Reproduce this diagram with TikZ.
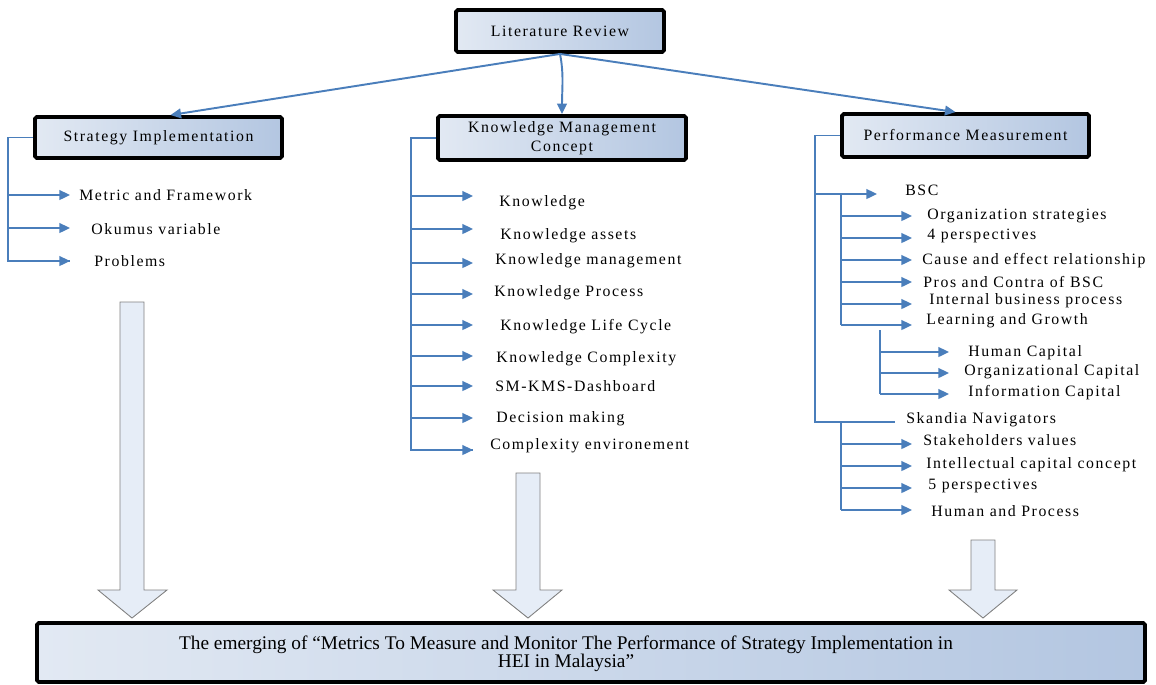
\documentclass[tikz,border=0pt]{standalone}
\usepackage{fontspec}
\newfontfamily\spacedfont{Liberation Serif}[LetterSpace=10]
\newfontfamily\plainfont{Liberation Serif}
\usetikzlibrary{arrows.meta, positioning, calc}
\definecolor{linkblue}{HTML}{4A7EBB}
\definecolor{boxleft}{HTML}{E2E9F3}
\definecolor{boxright}{HTML}{B3C6E1}
\definecolor{bigfill}{HTML}{E6EDF7}

\begin{document}
\begin{tikzpicture}[
		x=0.02cm, y=-0.02cm,
		font=\spacedfont\fontsize{9}{10.5}\selectfont,
		% Heading boxes
		headbox/.style={draw=black, line width=2.2pt, rounded corners=1pt, shading=axis, left color=boxleft, right color=boxright, shading angle=90, inner sep=0pt, align=center},
		% Links and list entries
		link/.style={draw=linkblue, line width=1.1pt},
		branch/.style={link, -{Triangle[length=6pt, width=5.5pt]}},
		entry/.style={anchor=west, inner sep=0pt},
		% Big down arrows
		bigarrow/.style={draw=black!50, fill=bigfill, line width=0.5pt}
		]
		\useasboundingbox (0,0) rectangle (1156,684);
		
		% --- HEADINGS ---
		\node[headbox, minimum width=208*0.02cm, minimum height=42*0.02cm] (LR) at (560,31) {Literature Review};
		\node[headbox, minimum width=247*0.02cm, minimum height=41*0.02cm] (SI) at (158.5,137.5) {Strategy Implementation};
		\node[headbox, minimum width=248*0.02cm, minimum height=44*0.02cm] (KM) at (562,138) {Knowledge Management\\Concept};
		\node[headbox, minimum width=247*0.02cm, minimum height=43*0.02cm] (PM) at (965.5,135.5) {Performance Measurement};
		
		% Top links
		\draw[branch] (LR.south) -- ($(SI.north)+(12,0)$);
		\draw[branch] (LR.south) .. controls +(4,20) and +(0,-25) .. (KM.north);
		\draw[branch] (LR.south) -- ($(PM.north)+(-10,0)$);
		
		% --- STRATEGY IMPLEMENTATION ---
		\coordinate (s1) at (70,195);
		\coordinate (s2) at (70,228);
		\coordinate (s3) at (70,261);
		\node[entry] (s1t) at (79,195) {Metric and Framework};
		\node[entry] (s2t) at (91,229) {Okumus variable};
		\node[entry] (s3t) at (94,261) {Problems};
		\draw[link] (SI.west) -- ++(-25,0) coordinate (sSpine) |- (s3);
		\draw[branch] (sSpine |- s1) -- (s1);
		\draw[branch] (sSpine |- s2) -- (s2);
		\draw[branch] (sSpine |- s3) -- (s3);
		
		% --- KNOWLEDGE MANAGEMENT CONCEPT ---
		\coordinate (k1) at (473,196);
		\coordinate (k2) at (473,229);
		\coordinate (k3) at (473,263);
		\coordinate (k4) at (473,294);
		\coordinate (k5) at (473,325);
		\coordinate (k6) at (473,356);
		\coordinate (k7) at (473,386);
		\coordinate (k8) at (473,418);
		\coordinate (k9) at (473,450);
		\node[entry] (k1t) at (499,203) {Knowledge};
		\node[entry] (k2t) at (500,236) {Knowledge assets};
		\node[entry] (k3t) at (495,261) {Knowledge management};
		\node[entry] (k4t) at (494,293) {Knowledge Process};
		\node[entry] (k5t) at (500,327) {Knowledge Life Cycle};
		\node[entry] (k6t) at (496,359) {Knowledge Complexity};
		\node[entry] (k7t) at (495,386) {SM-KMS-Dashboard};
		\node[entry] (k8t) at (496,419) {Decision making};
		\node[entry] (k9t) at (490,446) {Complexity environement};
		\draw[link] (KM.west) -- ++(-25,0) coordinate (kSpine) |- (k9);
		\draw[branch] (kSpine |- k1) -- (k1);
		\draw[branch] (kSpine |- k2) -- (k2);
		\draw[branch] (kSpine |- k3) -- (k3);
		\draw[branch] (kSpine |- k4) -- (k4);
		\draw[branch] (kSpine |- k5) -- (k5);
		\draw[branch] (kSpine |- k6) -- (k6);
		\draw[branch] (kSpine |- k7) -- (k7);
		\draw[branch] (kSpine |- k8) -- (k8);
		\draw[branch] (kSpine |- k9) -- (k9);
		
		% --- PERFORMANCE MEASUREMENT ---
		\coordinate (bsc) at (877,194);
		\coordinate (ska) at (895,422);
		\node[entry] (bsct) at (905,190) {BSC};
		\node[entry] (skat) at (906,420) {Skandia Navigators};
		\draw[link] (PM.west) -- ++(-25,0) coordinate (pSpine) |- (ska);
		\draw[branch] (pSpine |- bsc) -- (bsc);
		
		% BSC entries
		\coordinate (b1) at (912,216);
		\coordinate (b2) at (912,238);
		\coordinate (b3) at (912,260);
		\coordinate (b4) at (912,282);
		\coordinate (b5) at (912,304);
		\coordinate (b6) at (912,325);
		\node[entry] (b1t) at (927,216) {Organization strategies};
		\node[entry] (b2t) at (927,236) {4 perspectives};
		\node[entry] (b3t) at (922,261) {Cause and effect relationship};
		\node[entry] (b4t) at (923,282) {Pros and Contra of BSC};
		\node[entry] (b5t) at (929,301) {Internal business process};
		\node[entry] (b6t) at (926,321) {Learning and Growth};
		\draw[link] ($(pSpine |- bsc)+(26,0)$) coordinate (bSpine) -- (bSpine |- b6);
		\draw[branch] (bSpine |- b1) -- (b1);
		\draw[branch] (bSpine |- b2) -- (b2);
		\draw[branch] (bSpine |- b3) -- (b3);
		\draw[branch] (bSpine |- b4) -- (b4);
		\draw[branch] (bSpine |- b5) -- (b5);
		\draw[branch] (bSpine |- b6) -- (b6);
		
		% Learning and Growth entries
		\coordinate (g1) at (949,352);
		\coordinate (g2) at (949,373);
		\coordinate (g3) at (949,394);
		\node[entry] (g1t) at (968,353) {Human Capital};
		\node[entry] (g2t) at (964,372) {Organizational Capital};
		\node[entry] (g3t) at (968,393) {Information Capital};
		\draw[link] (880,330) coordinate (gSpine) -- (gSpine |- g3);
		\draw[branch] (gSpine |- g1) -- (g1);
		\draw[branch] (gSpine |- g2) -- (g2);
		\draw[branch] (gSpine |- g3) -- (g3);
		
		% Skandia entries
		\coordinate (n1) at (912,444);
		\coordinate (n2) at (912,466);
		\coordinate (n3) at (912,488);
		\coordinate (n4) at (912,510);
		\node[entry] (n1t) at (923,440) {Stakeholders values};
		\node[entry] (n2t) at (926,465) {Intellectual capital concept};
		\node[entry] (n3t) at (928,486) {5 perspectives};
		\node[entry] (n4t) at (931,511) {Human and Process};
		\draw[link] (bSpine |- ska) coordinate (nSpine) -- (nSpine |- n4);
		\draw[branch] (nSpine |- n1) -- (n1);
		\draw[branch] (nSpine |- n2) -- (n2);
		\draw[branch] (nSpine |- n3) -- (n3);
		\draw[branch] (nSpine |- n4) -- (n4);
		
		% --- RESULT ---
		\node[headbox, minimum width=1108*0.02cm, minimum height=59*0.02cm] (RES) at (591,652.5) {};
		\node[font=\plainfont\fontsize{11}{10.5}\selectfont, align=center, inner sep=0pt] (REStext) at (566,654)
		{The emerging of “Metrics To Measure and Monitor The Performance of Strategy Implementation in\\HEI in Malaysia”};
		
		% Big arrows
		\draw[bigarrow] (120,302) -- (144,302) -- (144,590) -- (167,590) -- (132,618) -- (98,590) -- (120,590) -- cycle;
		\draw[bigarrow] (516,473) -- (540,473) -- (540,590) -- (562,590) -- (528,618) -- (493,590) -- (516,590) -- cycle;
		\draw[bigarrow] (971,540) -- (995,540) -- (995,590) -- (1017,590) -- (983,618) -- (949,590) -- (971,590) -- cycle;
		
	\end{tikzpicture}
\end{document}
